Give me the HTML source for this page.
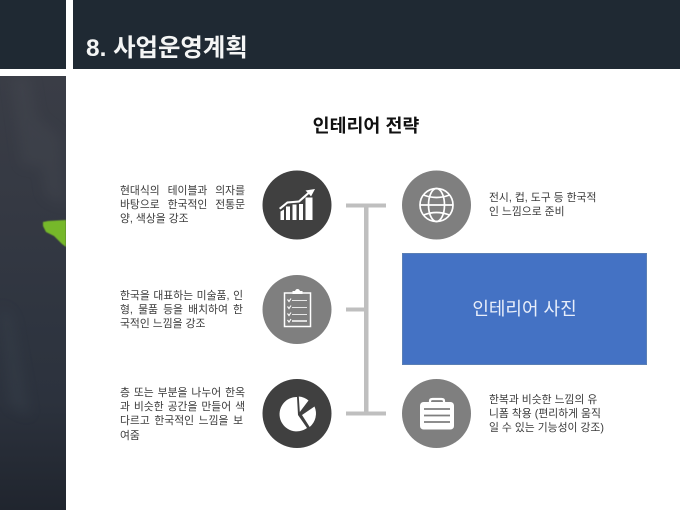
<!DOCTYPE html>
<html lang="ko">
<head>
<meta charset="utf-8">
<style>
html,body{margin:0;padding:0;background:#fff}
#s{position:relative;width:680px;height:510px;overflow:hidden;background:#fff;font-family:"Liberation Sans","Noto Sans CJK KR",sans-serif}
.a{position:absolute}
.l{position:absolute;font-size:10.8px;line-height:14px;height:14px;color:#3a3a3a;white-space:nowrap}
.j{width:125px;text-align:justify;text-align-last:justify;white-space:normal;overflow:hidden}
</style>
</head>
<body>
<div id="s">
<div class="a" style="left:0;top:0;width:66px;height:69px;background:#1f2933"></div>
<div class="a" style="left:72.500px;top:0;width:608px;height:69px;background:#1f2933"></div>
<div class="a" style="left:86px;top:34px;font-size:24.400px;line-height:30px;font-weight:700;color:#f4f5f5;white-space:nowrap">8. 사업운영계획</div>

<svg class="a" style="left:0;top:76px" width="66" height="434" viewBox="0 0 66 434">
<defs>
<linearGradient id="g" x1="0" y1="0" x2="0" y2="1">
<stop offset="0" stop-color="#3a3d46"/>
<stop offset=".3" stop-color="#353943"/>
<stop offset=".55" stop-color="#2f3540"/>
<stop offset=".75" stop-color="#2c323d"/>
<stop offset="1" stop-color="#20252e"/>
</linearGradient>
<filter id="b"><feGaussianBlur stdDeviation="6"/></filter>
<filter id="b2"><feGaussianBlur stdDeviation=".5"/></filter>
</defs>
<rect width="66" height="434" fill="url(#g)"/>
<g filter="url(#b)" fill="#4a4d55" opacity=".3">
<path d="M10 0L30 0L45 90L22 90Z"/>
<path d="M35 40L60 60L66 130L45 120Z"/>
<path d="M0 230L12 240L30 340L10 330Z" fill="#3e4651"/>
</g>
<path d="M43 146L48 145L66 144L66 171L62 168L54 160L46 156L43 150Z" fill="#76b82a" filter="url(#b2)"/>
</svg>

<div class="a" style="left:266px;top:114px;width:200px;text-align:center;font-size:18.400px;line-height:24px;font-weight:700;color:#111">인테리어 전략</div>

<div class="l j" style="left:120px;top:184px">현대식의 테이블과 의자를</div>
<div class="l j" style="left:120px;top:198px">바탕으로 한국적인 전통문</div>
<div class="l" style="left:120px;top:212px">양, 색상을 강조</div>

<div class="l j" style="left:120px;top:289px;width:123px">한국을 대표하는 미술품, 인</div>
<div class="l j" style="left:120px;top:303px;width:123px">형, 물품 등을 배치하여 한</div>
<div class="l" style="left:120px;top:317px">국적인 느낌을 강조</div>

<div class="l j" style="left:120px;top:386px">층 또는 부분을 나누어 한옥</div>
<div class="l j" style="left:120px;top:400px">과 비슷한 공간을 만들어 색</div>
<div class="l j" style="left:120px;top:414px;width:123px">다르고 한국적인 느낌을 보</div>
<div class="l" style="left:120px;top:429px">여줌</div>

<div class="l" style="left:489px;top:191px">전시, 컵, 도구 등 한국적</div>
<div class="l" style="left:489px;top:205px">인 느낌으로 준비</div>

<div class="l" style="left:489px;top:393px">한복과 비슷한 느낌의 유</div>
<div class="l" style="left:489px;top:407px">니폼 착용 (편리하게 움직</div>
<div class="l" style="left:489px;top:421px">일 수 있는 기능성이 강조)</div>

<svg class="a" style="left:0;top:0" width="680" height="510" viewBox="0 0 680 510">
<g fill="#bfbfbf">
<rect x="346" y="203.500" width="40" height="4"/>
<rect x="346" y="411.500" width="40" height="4"/>
<rect x="364" y="205" width="4.500" height="209"/>
<rect x="346" y="307.500" width="18" height="4"/>
</g>
<circle cx="297" cy="205" r="34.500" fill="#404040"/>
<circle cx="297" cy="309.500" r="34.500" fill="#7f7f7f"/>
<circle cx="297" cy="413.500" r="34.500" fill="#404040"/>
<circle cx="436.500" cy="205" r="34.500" fill="#7f7f7f"/>
<circle cx="436.500" cy="413.500" r="34.500" fill="#7f7f7f"/>

<!-- chart -->
<g fill="#fff">
<path d="M280.500 220V211.500L284 209.500V220Z"/>
<rect x="286" y="206.500" width="4" height="13.500"/>
<rect x="292.500" y="204.500" width="4" height="15.500"/>
<rect x="299" y="204" width="4" height="16"/>
<rect x="305.500" y="197.500" width="7" height="22.500"/>
<path d="M315 189L305.500 190.500L307.500 192.500L298.500 200.500L287 201.500L279 208L280.500 209.500L287.800 203.500L299.400 202.500L309 194L311 196.500Z"/>
</g>
<!-- clipboard -->
<g fill="none" stroke="#fff">
<rect x="284.500" y="293" width="26" height="33.500" stroke-width="1.500"/>
<path d="M293 292.500V291.500H295.500A2 2 0 0 1 299.500 291.500H302V293.500H293Z" fill="#fff" stroke-width="1"/>
<path d="M287.500 299.500L289 301.500L291 298.500M287.500 306.500L289 308.500L291 305.500M287.500 313.500L289 315.500L291 312.500M287.500 320L289 322L291 319" stroke-width="1.100"/>
<path d="M292 300.500H307M292 307.500H307M292 314.500H307" stroke-width="1" stroke="#e6e6e6"/>
<path d="M292 321H307" stroke-width="1.500"/>
</g>
<!-- pie -->
<g fill="#fff">
<path d="M297 397A17.200 17.200 0 1 0 307 428L298 415Z"/>
<path d="M298.800 396.500A17 17 0 0 1 308.500 400.500L299.800 412Z"/>
<path d="M302 415L314.500 406.500A17.500 17.500 0 0 1 309.700 427Z"/>
</g>
<!-- globe -->
<g fill="none" stroke="#fff" stroke-width="1.700">
<circle cx="436.500" cy="205" r="16.500"/>
<ellipse cx="436.500" cy="205" rx="8" ry="16.500"/>
<path d="M420 205H453"/>
<path d="M423.500 195Q436.500 200 449.500 195M423.500 215Q436.500 210 449.500 215"/>
</g>
<!-- briefcase -->
<path d="M430 402.500V401Q430 399 432.500 399H441.500Q444 399 444 401V402.500" fill="none" stroke="#fff" stroke-width="2.200"/>
<rect x="420" y="402" width="34" height="27.500" rx="3.500" fill="#fff"/>
<path d="M424 409H450M424 415.500H450M424 422H450" stroke="#7f7f7f" stroke-width="1.800" fill="none"/>
</svg>

<div class="a" style="left:402px;top:253px;width:245px;height:112px;background:#4472c4;color:#e8eefa;font-size:18px;line-height:111px;text-align:center;box-sizing:border-box;border:.5px solid #5a7fb5">인테리어 사진</div>
</div>
</body>
</html>
